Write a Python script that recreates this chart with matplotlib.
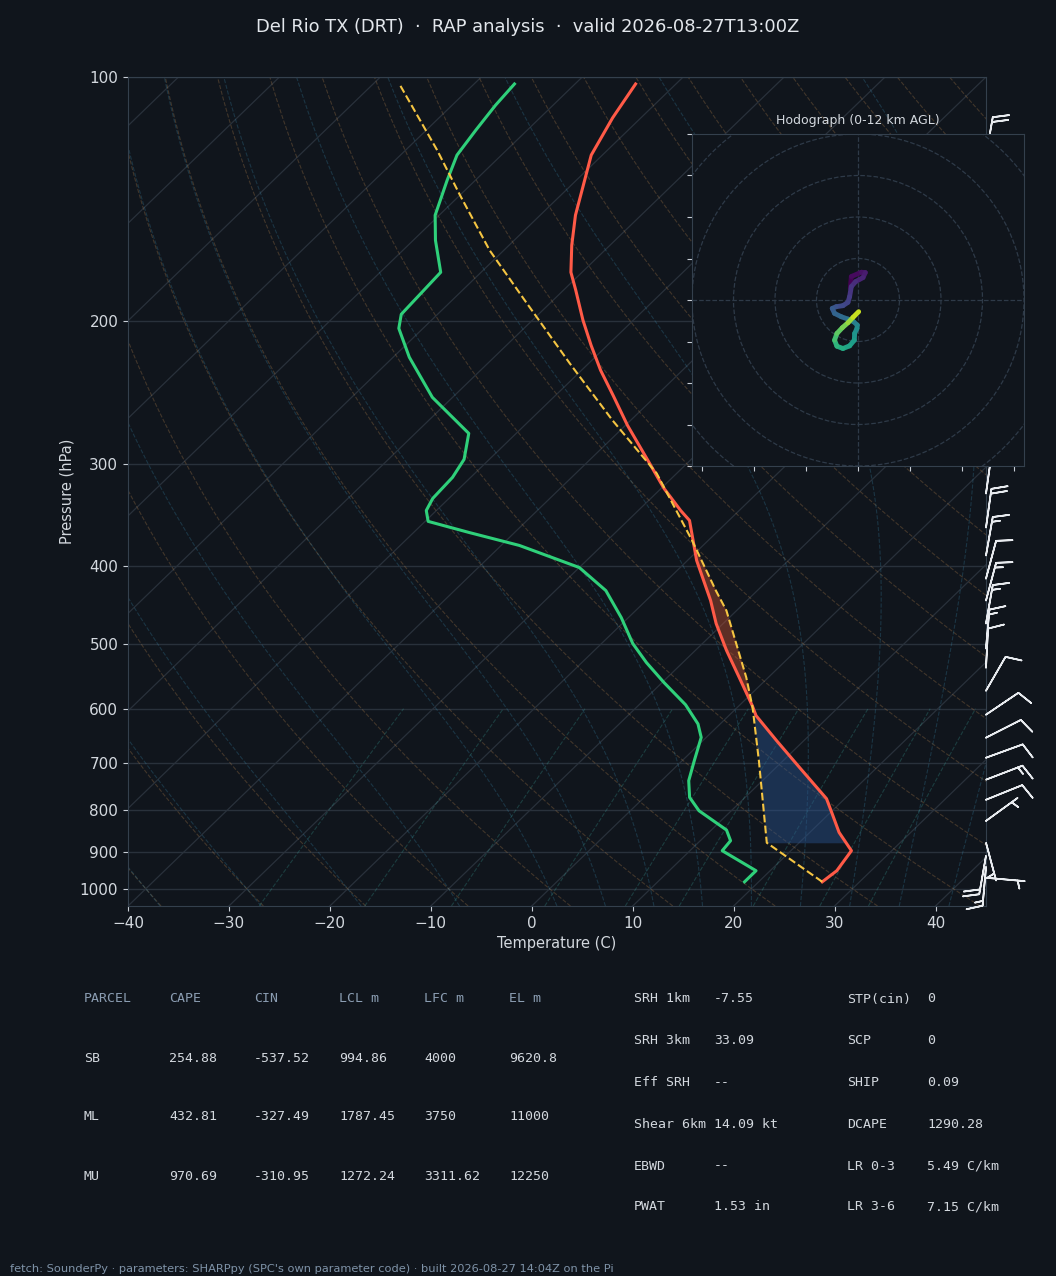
import numpy as np
import matplotlib
matplotlib.use("Agg")
import matplotlib.pyplot as plt
import matplotlib.transforms as mtransforms
from matplotlib.collections import LineCollection
from matplotlib.patches import Circle
from matplotlib.ticker import NullLocator

BG = "#10151c"
GRID = "#29313b"
SPINE = "#34404d"
TXT = "#d3d8de"
MUTED = "#8b9db2"

TITLE = "Del Rio TX (DRT)  \u00b7  RAP analysis  \u00b7  valid 2026-08-27T13:00Z"
FOOTER = ("fetch: SounderPy \u00b7 parameters: SHARPpy (SPC's own parameter code) "
          "\u00b7 built 2026-08-27 14:04Z on the Pi")

# Temperature profile (hPa, C)
temp_p = [980.4, 950.0, 897.6, 852.2, 808.2, 774.5, 708.6, 656.9, 611.9, 594.8,
          548.9, 508.7, 471.2, 441.5, 394.0, 351.8, 342.0, 321.3, 296.6, 268.6,
          246.7, 229.8, 214.1, 199.3, 183.0, 174.0, 161.1, 148.0, 135.9, 124.8,
          112.3, 102.0]
temp_c = [26.3, 26.6, 26.0, 22.9, 20.3, 18.2, 12.3, 7.3, 2.7, 1.3,
          -2.9, -6.9, -10.7, -13.6, -19.1, -23.9, -25.8, -29.7, -34.2, -39.8,
          -44.3, -48.1, -51.6, -55.0, -58.8, -61.1, -63.8, -66.5, -68.8, -71.1,
          -72.8, -74.0]

# Dewpoint profile (hPa, C)
dewp_p = [980.4, 950.0, 897.6, 872.5, 846.4, 801.4, 771.6, 735.9, 695.3, 650.9,
          626.5, 593.3, 557.2, 526.4, 498.8, 463.4, 429.2, 402.0, 377.6, 364.0,
          352.7, 342.0, 330.5, 311.3, 295.8, 274.8, 248.1, 221.4, 204.0, 196.0,
          184.6, 174.0, 158.9, 148.0, 134.0, 124.8, 116.2, 108.3, 102.0]
dewp_c = [18.6, 18.6, 13.2, 13.0, 11.5, 6.8, 4.5, 2.7, 1.2, -0.5,
          -2.2, -5.4, -9.8, -13.6, -16.9, -20.7, -25.0, -30.0, -38.2, -44.5,
          -49.7, -51.0, -51.6, -51.8, -52.5, -54.7, -62.0, -68.4, -72.4, -73.6,
          -73.8, -74.0, -77.8, -80.4, -82.8, -84.4, -85.1, -85.7, -86.0]

# Surface parcel path (hPa, C)
parcel_p = [980.4, 877.6, 695.3, 597.6, 548.9, 454.3, 429.2, 372.3, 307.7, 264.8,
            225.2, 188.4, 163.5, 139.8, 123.0, 102.0]
parcel_c = [26.3, 16.8, 7.6, 1.5, -2.2, -11.0, -14.1, -21.6, -32.0, -41.8,
            -51.9, -62.8, -71.4, -80.0, -86.9, -97.4]
lcl_p, lfc_p, el_p = 877.6, 597.6, 372.3

# Wind barbs (hPa, direction deg, speed kt)
barb_p = [125, 150, 175, 200, 225, 250, 275, 300, 325.9, 358.9, 388.5, 414.8,
          441.5, 471.2, 505.9, 534.0, 570.1, 610.2, 651.4, 689.5, 733.8, 776.8,
          824.8, 877.6, 910.6, 939.5, 969.2]
barb_dir = [10, 10, 10, 10, 10, 10, 10, 10, 8, 8, 10, 15,
            15, 10, 5, 3, 30, 56, 63, 70, 69, 68,
            54, 165, 190, 185, 95]
barb_spd = [20, 20, 20, 20, 20, 20, 20, 20, 20, 20, 15, 10,
            15, 15, 15, 10, 10, 10, 10, 10, 15, 10,
            5, 5, 20, 15, 5]

# Hodograph trace (u, v) and height (km)
hodo_u = [-1.85, -1.61, 0.81, 1.77, 1.21, -0.56, -1.61, -2.02, -2.42, -3.63,
          -5.24, -6.21, -5.65, -4.03, -2.42, -1.05, -0.16, -0.24, -0.81, -0.89,
          -2.02, -3.63, -5.08, -5.65, -5.08, -3.79, -2.42, -1.21, 0.16]
hodo_v = [2.82, 5.65, 6.69, 6.61, 5.40, 4.44, 3.23, 0.81, -0.56, -1.37,
          -1.61, -2.02, -3.23, -4.03, -4.60, -5.24, -6.05, -6.85, -8.06, -9.68,
          -11.05, -11.69, -11.13, -9.68, -8.06, -6.69, -5.48, -4.19, -2.82]
hodo_z = [0.0, 0.3, 0.6, 0.9, 1.2, 1.5, 1.8, 2.1, 2.4, 2.7,
          3.0, 3.4, 3.8, 4.2, 4.6, 5.0, 5.4, 5.8, 6.2, 6.6,
          7.0, 7.4, 7.8, 8.4, 9.0, 9.6, 10.2, 11.0, 12.0]

# Parameter table
parcel_names = ["SB", "ML", "MU"]
cape = [254.88, 432.81, 970.69]
cin = [-537.52, -327.49, -310.95]
lcl_m = [994.86, 1787.45, 1272.24]
lfc_m = [4000, 3750, 3311.62]
el_m = [9620.8, 11000, 12250]
table_header = ["PARCEL", "CAPE", "CIN", "LCL m", "LFC m", "EL m"]

left_labels = ["SRH 1km", "SRH 3km", "Eff SRH", "Shear 6km", "EBWD", "PWAT"]
left_values = ["-7.55", "33.09", "--", "14.09 kt", "--", "1.53 in"]
right_labels = ["STP(cin)", "SCP", "SHIP", "DCAPE", "LR 0-3", "LR 3-6"]
right_values = ["0", "0", "0.09", "1290.28", "5.49 C/km", "7.15 C/km"]

W, H = 1056, 1276
fig = plt.figure(figsize=(W / 100, H / 100), dpi=100, facecolor=BG)

# Skew-T axes
ax = fig.add_axes([128 / W, 1 - 906 / H, 858 / W, 829 / H])
ax.set_facecolor(BG)
ax.set_yscale("log")
ax.set_xlim(-40, 45)
ax.set_ylim(1050, 100)
ax.set_autoscale_on(False)
skew = (ax.transScale + ax.transLimits
        + mtransforms.Affine2D().skew_deg(45, 0) + ax.transAxes)

p_ticks = [100, 200, 300, 400, 500, 600, 700, 800, 900, 1000]
ax.set_yticks(p_ticks, labels=[str(p) for p in p_ticks])
ax.yaxis.set_minor_locator(NullLocator())
ax.set_xticks(range(-40, 41, 10))
for p in p_ticks:
    ax.axhline(p, color=GRID, lw=1.0, zorder=1)

# skewed isotherms
for t in range(-130, 50, 10):
    ax.plot([t, t], [1050, 100], color=GRID, lw=0.9, transform=skew, zorder=1)

p_bg = np.linspace(1050, 100, 150)
for t0 in np.arange(-40, 201, 10):
    t = (t0 + 273.15) * (p_bg / 1000.0) ** 0.2857 - 273.15
    ax.plot(t, p_bg, color="#c08a50", alpha=0.28, lw=0.8, ls="--",
            transform=skew, zorder=1)


def moist_dtdp(p, t):
    tc = t - 273.15
    es = 6.112 * np.exp(17.67 * tc / (tc + 243.5))
    rs = 0.622 * es / (p - es)
    num = 287.04 * t + 2.501e6 * rs
    den = 1005.7 + 2.501e6 ** 2 * rs * 0.622 / (287.04 * t ** 2)
    return num / den / p


def moist_path(t_start, p_grid):
    out = [t_start]
    t = t_start
    for p0, p1 in zip(p_grid[:-1], p_grid[1:]):
        h = p1 - p0
        k1 = moist_dtdp(p0, t)
        k2 = moist_dtdp(p0 + h / 2, t + h / 2 * k1)
        k3 = moist_dtdp(p0 + h / 2, t + h / 2 * k2)
        k4 = moist_dtdp(p1, t + h * k3)
        t = t + h / 6 * (k1 + 2 * k2 + 2 * k3 + k4)
        out.append(t)
    return np.array(out)


p_up = np.linspace(1000, 100, 181)
p_dn = np.linspace(1000, 1050, 11)
moist_t0 = np.concatenate((np.arange(-50, 1, 10), np.arange(5, 46, 5))) + 273.15
t_up = moist_path(moist_t0, p_up)
t_dn = moist_path(moist_t0, p_dn)
for i in range(len(moist_t0)):
    tt = np.concatenate((t_dn[::-1, i], t_up[1:, i])) - 273.15
    pp = np.concatenate((p_dn[::-1], p_up[1:]))
    ax.plot(tt, pp, color="#3a8fb5", alpha=0.26, lw=0.8, ls="--",
            transform=skew, zorder=1)

p_mix = np.linspace(1050, 600, 30)
for w in [0.0004, 0.001, 0.002, 0.004, 0.007, 0.01, 0.016, 0.024, 0.032]:
    e = w * p_mix / (0.622 + w)
    lg = np.log(e / 6.112)
    td = 243.5 * lg / (17.67 - lg)
    ax.plot(td, p_mix, color="#3aa39a", alpha=0.28, lw=0.8, ls="--",
            transform=skew, zorder=1)

# CIN / CAPE shading
tp_arr, tc_arr = np.array(temp_p), np.array(temp_c)
pp_arr, pc_arr = np.array(parcel_p), np.array(parcel_c)
lev = np.union1d(tp_arr, pp_arr)
lev = np.union1d(lev, [lcl_p, lfc_p, el_p])
lev = lev[(lev >= el_p) & (lev <= lcl_p)][::-1]
t_env = np.interp(np.log(lev), np.log(tp_arr[::-1]), tc_arr[::-1])
t_par = np.interp(np.log(lev), np.log(pp_arr[::-1]), pc_arr[::-1])
ax.fill_betweenx(lev, t_env, t_par, where=lev >= lfc_p, color="#2a5490",
                 alpha=0.45, lw=0, transform=skew, zorder=2)
ax.fill_betweenx(lev, t_env, t_par, where=lev <= lfc_p, color="#d05534",
                 alpha=0.4, lw=0, transform=skew, zorder=2)

ax.plot(temp_c, temp_p, color="#ff5a47", lw=2.2, transform=skew, zorder=5)
ax.plot(dewp_c, dewp_p, color="#2fd07a", lw=2.2, transform=skew, zorder=5)
ax.plot(parcel_c, parcel_p, color="#f5c542", lw=1.5, ls="--",
        transform=skew, zorder=5)

# wind barbs on the right edge
bdir = np.deg2rad(barb_dir)
bu = -np.array(barb_spd) * np.sin(bdir)
bv = -np.array(barb_spd) * np.cos(bdir)
bt = mtransforms.blended_transform_factory(ax.transAxes, ax.transData)
ax.barbs(np.ones(len(barb_p)), barb_p, bu, bv, transform=bt, clip_on=False,
         length=7.5, color="#e8ebef", linewidth=1.2, zorder=6)

for s in ax.spines.values():
    s.set_color(SPINE)
ax.tick_params(colors=TXT, labelsize=11)
ax.tick_params(axis="both", color="#c8ced6")
ax.set_xlabel("Temperature (C)", color=TXT, fontsize=10.5)
ax.set_ylabel("Pressure (hPa)", color=TXT, fontsize=10.5)
ax.set_xlim(-40, 45)
ax.set_ylim(1050, 100)

# Hodograph inset
hax = fig.add_axes([692 / W, 1 - 466 / H, 332 / W, 332 / H])
hax.set_facecolor(BG)
hax.set_xlim(-40, 40)
hax.set_ylim(-40, 40)
for r in [10, 20, 30, 40, 50]:
    hax.add_patch(Circle((0, 0), r, fill=False, ec="#2e3a48", lw=0.9, ls="--"))
hax.axhline(0, color="#2e3a48", lw=0.9, ls="--")
hax.axvline(0, color="#2e3a48", lw=0.9, ls="--")
pts = np.array([hodo_u, hodo_v]).T.reshape(-1, 1, 2)
segs = np.concatenate([pts[:-1], pts[1:]], axis=1)
lc = LineCollection(segs, cmap="viridis", norm=plt.Normalize(0, 12),
                    linewidth=3.5, capstyle="round")
lc.set_array(np.array(hodo_z[:-1]))
hax.add_collection(lc)
hax.set_xticks([-37.5, -25, -12.5, 0, 12.5, 25, 37.5])
hax.set_yticks(range(-40, 41, 10))
hax.tick_params(labelleft=False, labelbottom=False, color="#c8ced6")
for s in hax.spines.values():
    s.set_color(SPINE)
hax.set_title("Hodograph (0-12 km AGL)", color=TXT, fontsize=9, pad=7)

# Title and footer
fig.text(0.5, 1 - 27 / H, TITLE, ha="center", va="center", fontsize=12.9,
         color="#e3e7ec")
fig.text(10 / W, 1 - 1269 / H, FOOTER, ha="left", va="center", fontsize=8.2,
         color="#7f93a8")

# Parcel table
col_x = [84, 169, 254, 339, 424, 509]
row_y = [999, 1058, 1117, 1176]
mono = dict(family="DejaVu Sans Mono", fontsize=9.5, va="center")
for x, h in zip(col_x, table_header):
    fig.text(x / W, 1 - row_y[0] / H, h, color=MUTED, **mono)
for i, name in enumerate(parcel_names):
    vals = [name] + [f"{v:g}" for v in (cape[i], cin[i], lcl_m[i], lfc_m[i], el_m[i])]
    for x, s in zip(col_x, vals):
        fig.text(x / W, 1 - row_y[i + 1] / H, s, color=TXT, **mono)

# Parameter block
prow_y = [999, 1041, 1083, 1124, 1166, 1207]
for i in range(len(left_labels)):
    y = 1 - prow_y[i] / H
    fig.text(634 / W, y, left_labels[i], color=TXT, **mono)
    fig.text(714 / W, y, left_values[i], color=TXT, **mono)
    fig.text(847 / W, y, right_labels[i], color=TXT, **mono)
    fig.text(927 / W, y, right_values[i], color=TXT, **mono)

fig.savefig("out.png", dpi=100, facecolor=BG)
